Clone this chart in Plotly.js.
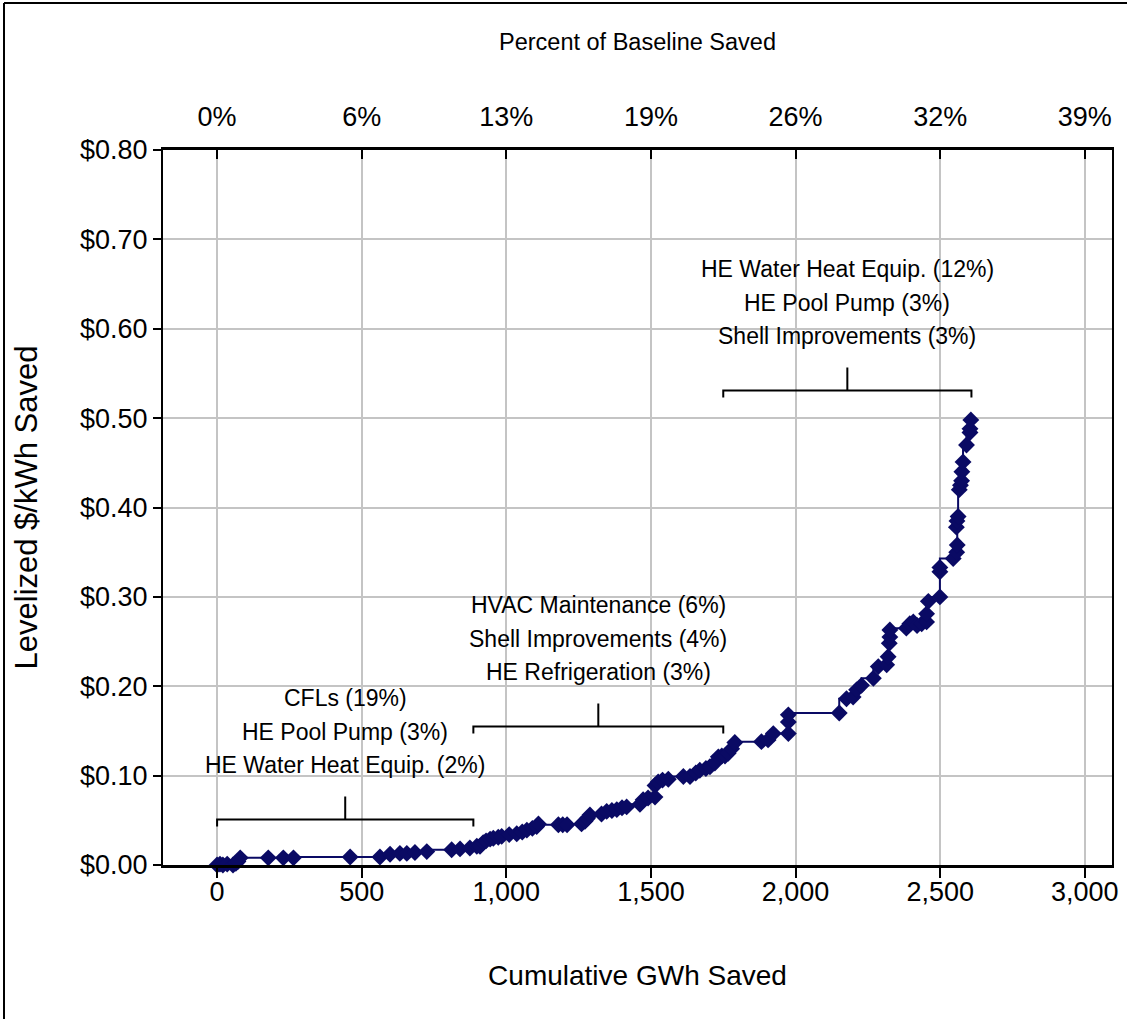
<!DOCTYPE html>
<html>
<head>
<meta charset="utf-8">
<script src="https://cdn.plot.ly/plotly-3.0.1.min.js"></script>
<style>
  html, body { margin: 0; padding: 0; background: #ffffff; }
  #chart { width: 1127px; height: 1019px; }
</style>
</head>
<body>
<div id="chart"></div>
<script>
// ---- Data ----
const cumulativeGWh = [
  0, 10, 20, 35, 55, 65, 72, 80,
  177, 229, 264, 460, 563, 598, 632, 656, 684, 725,
  811, 840, 874, 898, 909, 920, 930, 944, 955, 972, 984,
  1010, 1036, 1055, 1071, 1090, 1105, 1111,
  1180, 1195, 1210, 1260, 1272, 1280, 1289, 1329, 1347, 1365, 1382, 1400, 1416,
  1462, 1473, 1490, 1514, 1514, 1525, 1540, 1560,
  1612, 1635, 1655, 1669, 1690, 1704, 1721, 1733, 1745, 1756, 1767, 1779, 1790,
  1882, 1905, 1923, 1975, 1975, 1975,
  2151, 2176, 2199, 2211, 2228, 2269, 2286, 2315, 2320, 2324, 2326, 2326,
  2383, 2395, 2407, 2420, 2436, 2453, 2453, 2459, 2499, 2499, 2499,
  2545, 2557, 2559, 2556, 2558, 2562, 2566, 2570, 2574, 2575, 2579, 2591, 2603, 2603, 2606
];
const levelizedCost = [
  0.000, 0.001, 0.000, 0.001, 0.000, 0.002, 0.004, 0.008,
  0.008, 0.008, 0.008, 0.009, 0.009, 0.012, 0.013, 0.013, 0.014, 0.015,
  0.017, 0.018, 0.019, 0.021, 0.021, 0.025, 0.027, 0.029, 0.030, 0.031, 0.032,
  0.034, 0.035, 0.037, 0.039, 0.041, 0.043, 0.046,
  0.045, 0.045, 0.045, 0.046, 0.049, 0.052, 0.056, 0.057, 0.060, 0.061, 0.062, 0.064, 0.065,
  0.068, 0.073, 0.075, 0.076, 0.089, 0.093, 0.095, 0.096,
  0.099, 0.099, 0.103, 0.106, 0.108, 0.110, 0.114, 0.121, 0.122, 0.122, 0.125, 0.130, 0.137,
  0.138, 0.140, 0.147, 0.147, 0.160, 0.168,
  0.170, 0.186, 0.188, 0.196, 0.201, 0.209, 0.222, 0.224, 0.233, 0.248, 0.255, 0.263,
  0.265, 0.270, 0.272, 0.268, 0.270, 0.272, 0.281, 0.295, 0.300, 0.328, 0.333,
  0.343, 0.350, 0.358, 0.378, 0.385, 0.390, 0.420, 0.425, 0.430, 0.440, 0.451, 0.470, 0.484, 0.488, 0.498
];

// Top axis: percent of baseline saved
const pctTickGWh = [0, 500, 1000, 1500, 2000, 2500, 3000];
const pctTickText = ['0%', '6%', '13%', '19%', '26%', '32%', '39%'];

// Measure groups (cumulative GWh extents) and their labels
const groupStartGWh = [0, 886, 1750];
const groupEndGWh = [886, 1750, 2608];
const groupLabels = [
  ['CFLs (19%)', 'HE Pool Pump (3%)', 'HE Water Heat Equip. (2%)'],
  ['HVAC Maintenance (6%)', 'Shell Improvements (4%)', 'HE Refrigeration (3%)'],
  ['HE Water Heat Equip. (12%)', 'HE Pool Pump (3%)', 'Shell Improvements (3%)']
];

// ---- Layout / style ----
const FONT = '"Liberation Sans", Arial, sans-serif';
const NAVY = '#0a0a64';
const W = 1127, H = 1019;
const M = {l: 163, r: 15, t: 150, b: 154};
const plotW = W - M.l - M.r, plotH = H - M.t - M.b;
const xRange = [-187, 3094];
const yRange = [0, 0.8];
const pxPerY = plotH / (yRange[1] - yRange[0]);
const bracketLevel = [0.051, 0.155, 0.531];   // bracket heights (style/position)
const endDrop = 7 / pxPerY, centerRise = 23 / pxPerY;
const lineShifts = [121, 87, 54];

const shapes = [];
const annotations = [];
for (let g = 0; g < groupStartGWh.length; g++) {
  const x0 = groupStartGWh[g], x1 = groupEndGWh[g], yb = bracketLevel[g];
  const xc = (x0 + x1) / 2;
  shapes.push({
    type: 'path', xref: 'x', yref: 'y',
    path: `M ${x0} ${yb - endDrop} L ${x0} ${yb} L ${x1} ${yb} L ${x1} ${yb - endDrop} M ${xc} ${yb} L ${xc} ${yb + centerRise}`,
    line: {color: '#000000', width: 2}
  });
  groupLabels[g].forEach((t, i) => {
    annotations.push({
      x: xc, y: yb, xref: 'x', yref: 'y', text: t, showarrow: false,
      yshift: lineShifts[i], xanchor: 'center', yanchor: 'middle',
      font: {family: FONT, size: 23, color: '#000000'}
    });
  });
}
// outer frame (left and top edges)
shapes.push({type: 'line', xref: 'paper', yref: 'paper',
  x0: (4 - M.l) / plotW, x1: (4 - M.l) / plotW, y0: (M.t + plotH - H) / plotH - 0.01, y1: (M.t + plotH - 3) / plotH,
  line: {color: '#000000', width: 2}});
shapes.push({type: 'line', xref: 'paper', yref: 'paper',
  x0: (4 - M.l) / plotW, x1: (W + 5 - M.l) / plotW, y0: (M.t + plotH - 3) / plotH, y1: (M.t + plotH - 3) / plotH,
  line: {color: '#000000', width: 2}});

const trace = {
  type: 'scatter', mode: 'lines+markers',
  x: cumulativeGWh, y: levelizedCost,
  line: {shape: 'vh', color: NAVY, width: 2},
  marker: {symbol: 'diamond', size: 13, color: NAVY},
  cliponaxis: false,
  hoverinfo: 'x+y'
};

const layout = {
  width: W, height: H,
  margin: M,
  paper_bgcolor: '#ffffff', plot_bgcolor: '#ffffff',
  showlegend: false,
  font: {family: FONT, color: '#000000'},
  xaxis: {
    range: xRange, tick0: 0, dtick: 500, tickformat: ',d',
    showgrid: true, gridcolor: '#c4c4c4', gridwidth: 2,
    zeroline: false,
    showline: true, linecolor: '#000000', linewidth: 3,
    ticks: 'outside', ticklen: 10, tickwidth: 2, tickcolor: '#000000',
    ticklabelstandoff: -9,
    tickfont: {family: FONT, size: 27},
    title: {text: 'Cumulative GWh Saved', font: {family: FONT, size: 28}, standoff: 59}
  },
  xaxis2: {
    overlaying: 'x', side: 'top', anchor: 'y',
    range: xRange, tickmode: 'array', tickvals: pctTickGWh, ticktext: pctTickText,
    showgrid: false, zeroline: false,
    showline: true, linecolor: '#000000', linewidth: 3,
    ticks: 'inside', ticklen: 9, tickwidth: 2, tickcolor: '#000000',
    ticklabelstandoff: 10,
    tickfont: {family: FONT, size: 27},
    title: {text: 'Percent of Baseline Saved', font: {family: FONT, size: 23.5}, standoff: 45}
  },
  yaxis: {
    range: yRange, dtick: 0.1, tickprefix: '$', tickformat: '.2f',
    showgrid: true, gridcolor: '#c4c4c4', gridwidth: 2,
    zeroline: false,
    showline: true, mirror: true, linecolor: '#000000', linewidth: 2,
    ticks: 'outside', ticklen: 8, tickwidth: 2, tickcolor: '#000000',
    tickfont: {family: FONT, size: 27},
    title: {text: 'Levelized $/kWh Saved', font: {family: FONT, size: 31}, standoff: 33}
  },
  shapes: shapes,
  annotations: annotations
};

// invisible point so the overlaid top (percent) axis is drawn
const topAxisTrace = {
  type: 'scatter', mode: 'markers', x: [cumulativeGWh[0]], y: [levelizedCost[0]],
  xaxis: 'x2', yaxis: 'y', marker: {opacity: 0}, hoverinfo: 'skip', showlegend: false
};

Plotly.newPlot('chart', [trace, topAxisTrace], layout, {displayModeBar: false, staticPlot: true});
</script>
</body>
</html>
